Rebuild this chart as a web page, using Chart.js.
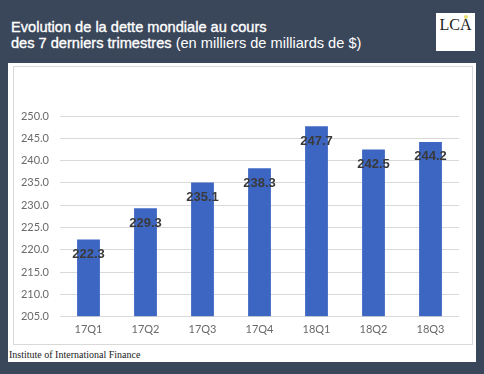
<!DOCTYPE html>
<html><head><meta charset="utf-8">
<script src="https://cdn.jsdelivr.net/npm/chart.js@4/dist/chart.umd.min.js"></script>
<style>
html,body{margin:0;padding:0;}
body{width:484px;height:374px;background:#3a4659;position:relative;overflow:hidden;font-family:Arial,"Liberation Sans",sans-serif;}
#title{position:absolute;left:11px;top:19px;color:#fff;font-size:14.6px;line-height:16px;font-family:"Liberation Sans",Arial,sans-serif;}
#title b{font-weight:normal;-webkit-text-stroke:0.35px #fff;}
#logo{position:absolute;left:436px;top:13px;width:39px;height:38px;background:#fff;}
#logo span{position:absolute;left:0;top:3px;width:39px;text-align:center;font-family:"Liberation Serif",serif;font-size:16px;color:#222;}
#logo i{position:absolute;left:28px;top:2px;width:4px;height:4px;border-radius:2px;background:#e8e070;}
#panel{position:absolute;left:8px;top:63px;width:468px;height:299px;background:#fff;}
#box{position:absolute;left:13px;top:66px;width:458px;height:277px;border:1px solid #d9d9d9;background:#fff;}
#src{position:absolute;left:9px;top:349px;font-family:"Liberation Serif","DejaVu Serif",serif;font-size:10px;color:#222;}
canvas{position:absolute;left:0;top:0;}
</style></head>
<body>
<div id="title"><b>Evolution de la dette mondiale au cours</b><br><b>des 7 derniers trimestres</b> (en milliers de milliards de $)</div>
<div id="logo"><i></i><span>LCA</span></div>
<div id="panel"></div>
<div id="box"><canvas id="c" width="458" height="277"></canvas></div>
<div id="src">Institute of International Finance</div>
<script>
const categories = ["17Q1","17Q2","17Q3","17Q4","18Q1","18Q2","18Q3"];
const debtValues = [222.3, 229.3, 235.1, 238.3, 247.7, 242.5, 244.2];
const yTicks = [205,210,215,220,225,230,235,240,245,250];

const valueLabels = {
  id:'valueLabels',
  afterDatasetsDraw(chart){
    const ctx = chart.ctx;
    const meta = chart.getDatasetMeta(0);
    ctx.save();
    ctx.font = 'bold 13px "Liberation Sans", Arial, sans-serif';
    ctx.fillStyle = '#3a3a3a';
    ctx.textAlign = 'center';
    ctx.textBaseline = 'middle';
    meta.data.forEach((bar,i)=>{
      ctx.fillText(debtValues[i].toFixed(1), bar.x, bar.y + 15);
    });
    ctx.restore();
  }
};

new Chart(document.getElementById('c'), {
  type:'bar',
  data:{labels:categories, datasets:[{data:debtValues, backgroundColor:'#3d66c2', barPercentage:0.8, categoryPercentage:0.5, base:205}]},
  options:{
    responsive:false, animation:false,
    layout:{padding:{top:49,right:13,left:0,bottom:2}},
    plugins:{legend:{display:false}, tooltip:{enabled:false}},
    scales:{
      x:{grid:{display:false, drawTicks:false}, border:{display:false},
         ticks:{color:'#6a6a6a', font:{family:'Lato, "Open Sans", sans-serif', size:11}, padding:6}},
      y:{min:205, max:250, afterBuildTicks(s){ s.ticks = yTicks.map(v=>({value:v})); },
         afterFit(s){ s.width = 46; },
         grid:{color:'#d9d9d9', drawTicks:false}, border:{display:false},
         ticks:{color:'#6a6a6a', font:{family:'Lato, "Open Sans", sans-serif', size:11}, padding:11, callback:v=>v.toFixed(1)}}
    }
  },
  plugins:[valueLabels]
});
</script>
</body></html>
